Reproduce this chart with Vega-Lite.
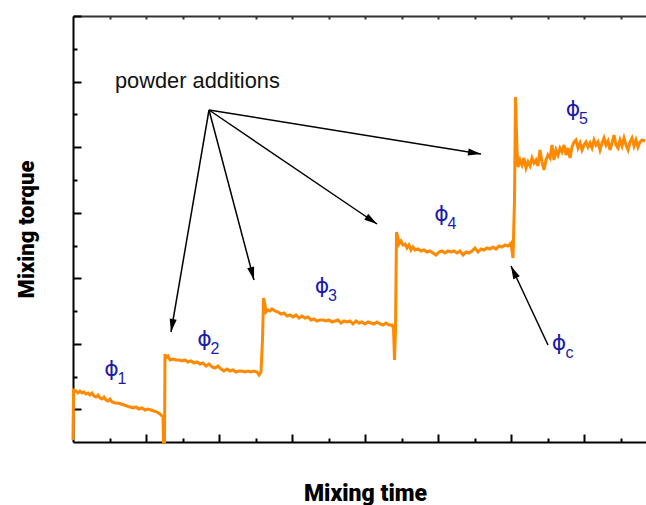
{
  "$schema": "https://vega.github.io/schema/vega-lite/v6.json",
  "width": 573,
  "height": 426,
  "autosize": "none",
  "padding": {"left": 73, "top": 16, "right": 0, "bottom": 63},
  "background": "white",
  "config": {"view": {"stroke": null}},
  "resolve": {"axis": {"x": "independent", "y": "independent"}},
  "datasets": {
    "torque": [
      {"t":0,"v":2},{"t":0.5,"v":52},{"t":3,"v":51},{"t":5,"v":49},{"t":7,"v":51},{"t":9,"v":49},{"t":11,"v":50},{"t":13,"v":48},{"t":15,"v":49},{"t":17,"v":47},{"t":19,"v":49},{"t":21,"v":46},{"t":23,"v":45},{"t":25,"v":47},{"t":27,"v":44},{"t":29,"v":43},{"t":31,"v":45},{"t":33,"v":42},{"t":35,"v":41},{"t":37,"v":43},{"t":39,"v":40},{"t":42,"v":39},{"t":45,"v":39},{"t":48,"v":38},{"t":51,"v":37},{"t":54,"v":36},{"t":57,"v":35},{"t":60,"v":34},{"t":63,"v":35},{"t":66,"v":33},{"t":69,"v":34},{"t":72,"v":32},{"t":75,"v":33},{"t":78,"v":32},{"t":81,"v":31},{"t":84,"v":30},{"t":87,"v":28},{"t":89,"v":26},{"t":90,"v":25},{"t":90.5,"v":0},{"t":91.5,"v":0},
      {"t":92,"v":88},{"t":93,"v":84},{"t":95,"v":86},{"t":97,"v":82},{"t":100,"v":83},{"t":103,"v":82},{"t":106,"v":82},{"t":109,"v":81},{"t":112,"v":82},{"t":115,"v":80},{"t":118,"v":81},{"t":121,"v":79},{"t":124,"v":80},{"t":127,"v":78},{"t":130,"v":79},{"t":133,"v":76},{"t":136,"v":78},{"t":139,"v":75},{"t":142,"v":74},{"t":145,"v":76},{"t":148,"v":73},{"t":151,"v":71},{"t":154,"v":73},{"t":157,"v":71},{"t":160,"v":72},{"t":163,"v":70},{"t":166,"v":71},{"t":169,"v":71},{"t":172,"v":70},{"t":175,"v":71},{"t":178,"v":70},{"t":181,"v":71},{"t":184,"v":70},{"t":186,"v":67},{"t":188,"v":70},
      {"t":189.5,"v":102},{"t":190.5,"v":144},{"t":192,"v":137},{"t":193,"v":130},{"t":195,"v":132},{"t":197,"v":131},{"t":199,"v":133},{"t":202,"v":131},{"t":205,"v":130},{"t":208,"v":128},{"t":211,"v":129},{"t":214,"v":126},{"t":217,"v":127},{"t":220,"v":125},{"t":223,"v":127},{"t":226,"v":124},{"t":229,"v":126},{"t":232,"v":124},{"t":235,"v":125},{"t":238,"v":122},{"t":241,"v":123},{"t":244,"v":121},{"t":247,"v":122},{"t":250,"v":122},{"t":253,"v":121},{"t":256,"v":122},{"t":259,"v":120},{"t":262,"v":121},{"t":265,"v":122},{"t":268,"v":119},{"t":271,"v":121},{"t":274,"v":120},{"t":277,"v":121},{"t":280,"v":118},{"t":283,"v":121},{"t":286,"v":119},{"t":289,"v":120},{"t":292,"v":118},{"t":295,"v":120},{"t":298,"v":119},{"t":301,"v":118},{"t":304,"v":120},{"t":307,"v":118},{"t":310,"v":117},{"t":313,"v":119},{"t":316,"v":117},{"t":319,"v":117},{"t":320.5,"v":114},{"t":321.5,"v":82},{"t":322.5,"v":112},
      {"t":323.5,"v":210},{"t":325,"v":204},{"t":326,"v":198},{"t":328,"v":201},{"t":330,"v":197},{"t":332,"v":198},{"t":334,"v":194},{"t":336,"v":197},{"t":338,"v":192},{"t":340,"v":195},{"t":342,"v":192},{"t":345,"v":193},{"t":348,"v":191},{"t":351,"v":192},{"t":354,"v":190},{"t":357,"v":191},{"t":360,"v":189},{"t":363,"v":187},{"t":366,"v":190},{"t":369,"v":191},{"t":372,"v":189},{"t":375,"v":191},{"t":378,"v":190},{"t":381,"v":191},{"t":384,"v":189},{"t":387,"v":191},{"t":390,"v":187},{"t":393,"v":190},{"t":396,"v":189},{"t":399,"v":191},{"t":402,"v":194},{"t":405,"v":190},{"t":408,"v":193},{"t":411,"v":192},{"t":414,"v":194},{"t":417,"v":193},{"t":420,"v":195},{"t":423,"v":193},{"t":426,"v":196},{"t":429,"v":195},{"t":432,"v":197},{"t":435,"v":196},{"t":438,"v":199},{"t":440,"v":184},
      {"t":441.5,"v":242},{"t":442.5,"v":345},{"t":444,"v":292},{"t":445,"v":275},{"t":447,"v":282},{"t":449,"v":277},{"t":451,"v":284},{"t":453,"v":274},{"t":455,"v":280},{"t":457,"v":276},{"t":459,"v":284},{"t":461,"v":279},{"t":463,"v":282},{"t":465,"v":276},{"t":467,"v":292},{"t":469,"v":280},{"t":471,"v":272},{"t":473,"v":282},{"t":475,"v":287},{"t":477,"v":284},{"t":479,"v":297},{"t":481,"v":282},{"t":483,"v":292},{"t":485,"v":287},{"t":487,"v":294},{"t":489,"v":290},{"t":491,"v":297},{"t":493,"v":287},{"t":495,"v":294},{"t":497,"v":284},{"t":499,"v":295},{"t":501,"v":300},{"t":503,"v":302},{"t":505,"v":294},{"t":507,"v":299},{"t":509,"v":292},{"t":511,"v":297},{"t":513,"v":300},{"t":515,"v":295},{"t":517,"v":299},{"t":519,"v":294},{"t":521,"v":302},{"t":523,"v":297},{"t":525,"v":300},{"t":527,"v":292},{"t":529,"v":299},{"t":531,"v":304},{"t":533,"v":297},{"t":535,"v":301},{"t":537,"v":292},{"t":539,"v":299},{"t":541,"v":307},{"t":543,"v":297},{"t":545,"v":294},{"t":547,"v":302},{"t":549,"v":296},{"t":551,"v":304},{"t":553,"v":297},{"t":555,"v":292},{"t":557,"v":300},{"t":559,"v":304},{"t":561,"v":296},{"t":563,"v":302},{"t":565,"v":295},{"t":567,"v":300},{"t":569,"v":302},{"t":572,"v":301}
    ],
    "arrows": [
      {"x":136,"y":332,"x2":98,"y2":110},
      {"x":136,"y":332,"x2":181,"y2":162},
      {"x":136,"y":332,"x2":304,"y2":218},
      {"x":136,"y":332,"x2":408,"y2":288},
      {"x":475,"y":97,"x2":438,"y2":176}
    ],
    "phis": [
      {"x":38.5,"y":73.5,"sub":"1"},
      {"x":131.5,"y":103.5,"sub":"2"},
      {"x":249,"y":156,"sub":"3"},
      {"x":368.5,"y":228,"sub":"4"},
      {"x":500,"y":333,"sub":"5"},
      {"x":486,"y":99.5,"sub":"c"}
    ],
    "notes": [
      {"x":42,"y":354,"label":"powder additions"}
    ]
  },
  "layer": [
    {
      "data": {"name": "torque"},
      "mark": {"type": "line", "color": "#ff8a00", "strokeWidth": 3},
      "encoding": {
        "x": {
          "field": "t", "type": "quantitative",
          "scale": {"domain": [0, 573], "nice": false, "zero": false},
          "axis": {
            "orient": "bottom", "title": "Mixing time", "labels": false, "grid": false,
            "domainColor": "#000", "domainWidth": 2, "tickColor": "#000", "tickWidth": 2,
            "values": [36.5, 73, 109.5, 146, 182.5, 219, 255.5, 292, 328.5, 365, 401.5, 438, 474.5, 511, 547.5],
            "tickSize": {"condition": {"test": "datum.value % 73 === 0", "value": -8}, "value": -4},
            "titleFont": "Roboto", "titleFontSize": 23, "titleFontWeight": 900, "titleColor": "#000",
            "titleX": 292, "titleY": 58, "titleBaseline": "alphabetic", "titleAlign": "center", "titleAnchor": null
          }
        },
        "y": {
          "field": "v", "type": "quantitative",
          "scale": {"domain": [0, 426], "nice": false, "zero": false},
          "axis": {
            "orient": "left", "title": "Mixing torque", "labels": false, "grid": false,
            "domainColor": "#000", "domainWidth": 2, "tickColor": "#000", "tickWidth": 2,
            "values": [32.75, 65.5, 98.25, 131, 163.75, 196.5, 229.25, 262, 294.75, 327.5, 360.25, 393, 425.75],
            "tickSize": {"condition": {"test": "datum.value % 65.5 === 32.75", "value": -8}, "value": -4},
            "titleFont": "Roboto", "titleFontSize": 22, "titleFontWeight": 900, "titleColor": "#000",
            "titleX": -40, "titleY": 213, "titleAngle": -90, "titleBaseline": "alphabetic", "titleAlign": "center", "titleAnchor": null
          }
        }
      }
    },
    {
      "data": {"name": "arrows"},
      "mark": {"type": "rule", "color": "#000", "strokeWidth": 1.5},
      "encoding": {
        "x": {"field": "x", "type": "quantitative", "scale": {"domain": [0, 573], "nice": false, "zero": false}, "axis": null},
        "y": {"field": "y", "type": "quantitative", "scale": {"domain": [0, 426], "nice": false, "zero": false}, "axis": null},
        "x2": {"field": "x2"},
        "y2": {"field": "y2"}
      }
    },
    {
      "data": {"name": "arrows"},
      "transform": [{"calculate": "atan2(datum.x2 - datum.x, datum.y2 - datum.y) * 180 / PI", "as": "ang"}],
      "mark": {"type": "point", "shape": "M0,0L0.55,2L-0.55,2Z", "filled": true, "color": "#000", "opacity": 1, "size": 169, "strokeWidth": 0},
      "encoding": {
        "x": {"field": "x2", "type": "quantitative", "scale": {"domain": [0, 573], "nice": false, "zero": false}, "axis": null},
        "y": {"field": "y2", "type": "quantitative", "scale": {"domain": [0, 426], "nice": false, "zero": false}, "axis": null},
        "angle": {"field": "ang", "type": "quantitative", "scale": null}
      }
    },
    {
      "data": {"name": "notes"},
      "mark": {"type": "text", "align": "left", "baseline": "alphabetic", "font": "Liberation Sans", "fontSize": 21.8, "color": "#111"},
      "encoding": {
        "x": {
          "field": "x", "type": "quantitative", "scale": {"domain": [0, 573], "nice": false, "zero": false},
          "axis": {
            "orient": "top", "title": null, "labels": false, "grid": false,
            "domainColor": "#333", "domainWidth": 2, "tickColor": "#333", "tickWidth": 2, "tickSize": -3,
            "values": [36.5, 73, 109.5, 146, 182.5, 219, 255.5, 292, 328.5, 365, 401.5, 438, 474.5, 511, 547.5]
          }
        },
        "y": {"field": "y", "type": "quantitative", "scale": {"domain": [0, 426], "nice": false, "zero": false}, "axis": null},
        "text": {"field": "label"}
      }
    },
    {
      "data": {"name": "phis"},
      "mark": {"type": "text", "text": "ϕ", "align": "center", "baseline": "middle", "font": "DejaVu Sans", "fontSize": 22, "color": "#1c1caa"},
      "encoding": {
        "x": {"field": "x", "type": "quantitative", "scale": {"domain": [0, 573], "nice": false, "zero": false}, "axis": null},
        "y": {"field": "y", "type": "quantitative", "scale": {"domain": [0, 426], "nice": false, "zero": false}, "axis": null}
      }
    },
    {
      "data": {"name": "phis"},
      "mark": {"type": "text", "align": "center", "baseline": "middle", "dx": 10.5, "dy": 10, "font": "Liberation Sans", "fontSize": 16, "color": "#1c1caa"},
      "encoding": {
        "x": {"field": "x", "type": "quantitative", "scale": {"domain": [0, 573], "nice": false, "zero": false}, "axis": null},
        "y": {"field": "y", "type": "quantitative", "scale": {"domain": [0, 426], "nice": false, "zero": false}, "axis": null},
        "text": {"field": "sub"}
      }
    }
  ]
}
